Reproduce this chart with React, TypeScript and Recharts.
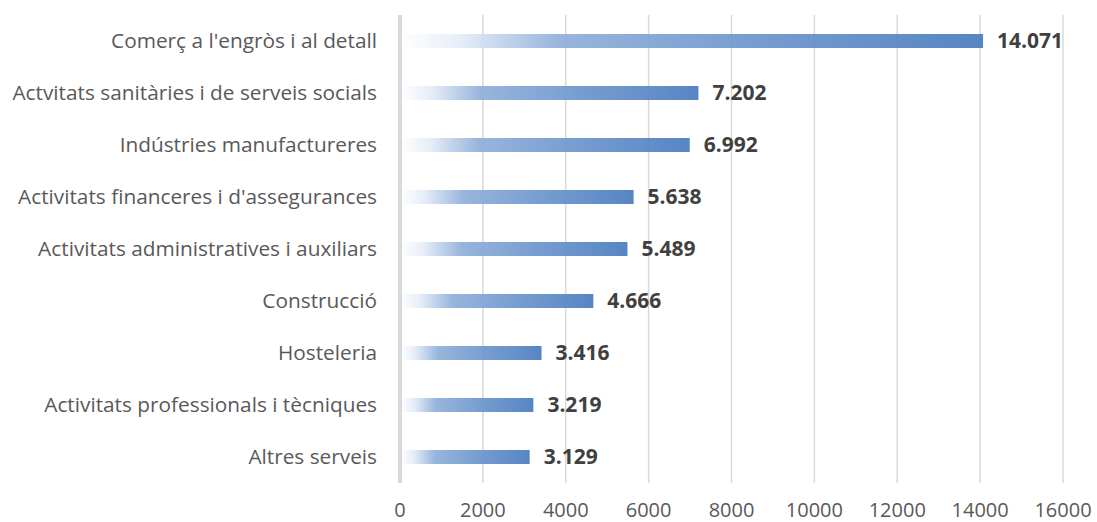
import { BarChart, Bar, XAxis, YAxis, CartesianGrid, LabelList } from 'recharts'

const categories = [
  "Comerç a l'engròs i al detall",
  'Actvitats sanitàries i de serveis socials',
  'Indústries manufactureres',
  "Activitats financeres i d'assegurances",
  'Activitats administratives i auxiliars',
  'Construcció',
  'Hosteleria',
  'Activitats professionals i tècniques',
  'Altres serveis',
]

const values = [14071, 7202, 6992, 5638, 5489, 4666, 3416, 3219, 3129]

const xTicks = [0, 2000, 4000, 6000, 8000, 10000, 12000, 14000, 16000]

const data = categories.map((name, i) => ({ name, value: values[i] }))

// 14071 -> 14.071
const fmt = (v: any) => String(v).replace(/\B(?=(\d{3})+(?!\d))/g, '.')

const FONT = '"Open Sans", Lato, sans-serif'

export default function App() {
  return (
    <div style={{ position: 'absolute', left: 0, top: 0, background: '#fff', fontFamily: FONT }}>
      <BarChart
        width={1097}
        height={522}
        data={data}
        layout="vertical"
        margin={{ top: 15, right: 34, left: 0, bottom: 9 }}
        barCategoryGap={0}
      >
        <defs>
          <linearGradient id="barGrad" x1="0" y1="0" x2="1" y2="0">
            <stop offset="0%" stopColor="#ffffff" />
            <stop offset="10%" stopColor="#e6edf8" />
            <stop offset="27%" stopColor="#90b0da" />
            <stop offset="60%" stopColor="#6d96cd" />
            <stop offset="100%" stopColor="#4a7cc0" />
          </linearGradient>
        </defs>
        <CartesianGrid horizontal={false} stroke="#d9d9d9" strokeWidth={1.5} />
        <XAxis
          type="number"
          domain={[0, 16000]}
          ticks={xTicks}
          interval={0}
          axisLine={false}
          tickLine={false}
          height={30}
          dy={12}
          tick={{ fontSize: 20, fill: '#595959', fontFamily: FONT }}
        />
        <YAxis
          type="category"
          dataKey="name"
          width={400}
          interval={0}
          tickLine={false}
          axisLine={{ stroke: '#d9d9d9', strokeWidth: 4 }}
          tickMargin={17}
          tick={{ fontSize: 20.8, fill: '#595959', fontFamily: FONT }}
        />
        <Bar dataKey="value" fill="url(#barGrad)" fillOpacity={0.93} barSize={14} isAnimationActive={false}>
          <LabelList
            dataKey="value"
            position="right"
            offset={14}
            formatter={fmt}
            style={{ fontSize: 21, fontWeight: 'bold', fill: '#404040', fontFamily: FONT }}
          />
        </Bar>
      </BarChart>
    </div>
  )
}
